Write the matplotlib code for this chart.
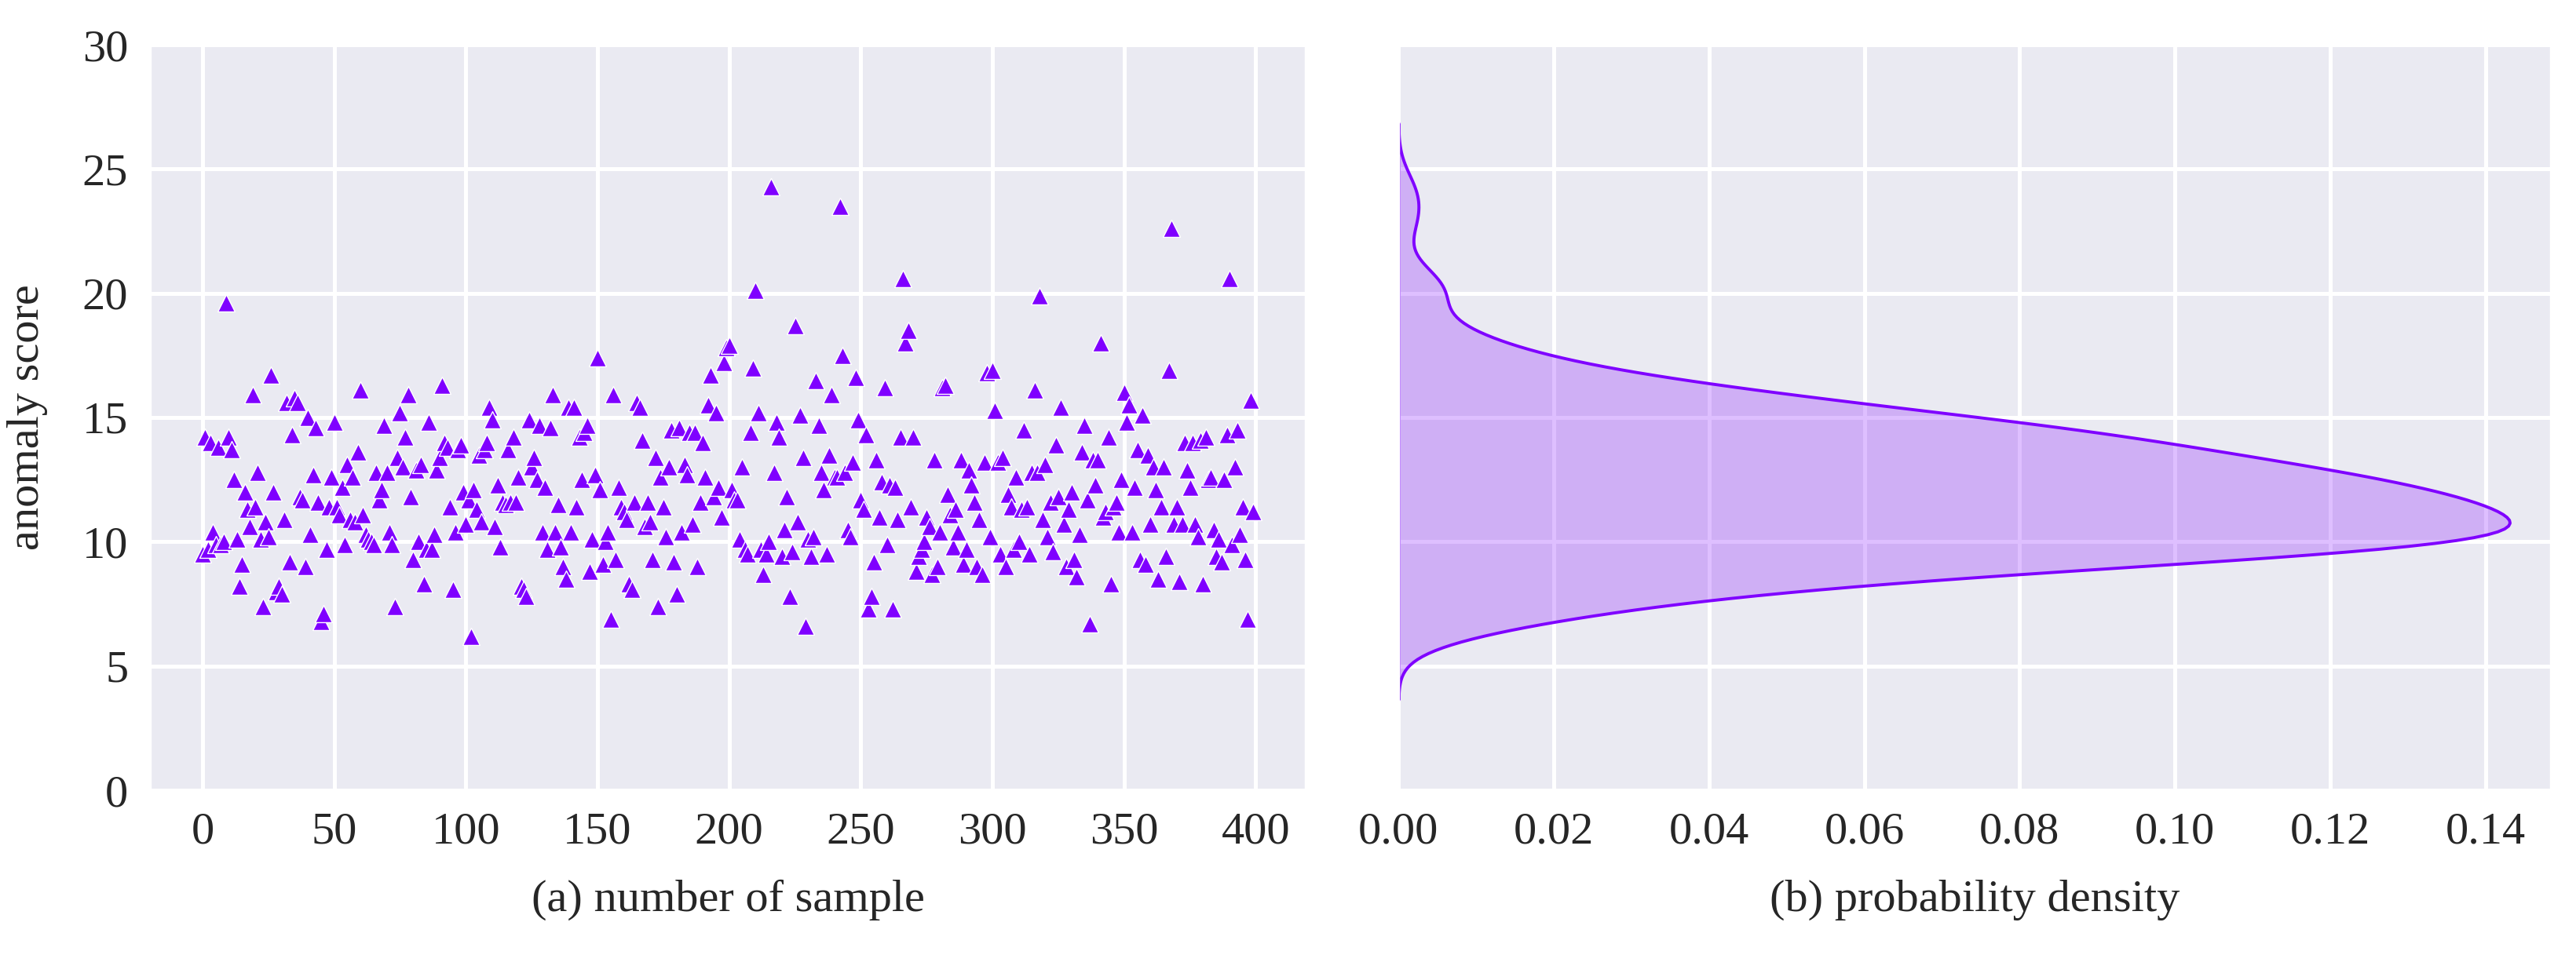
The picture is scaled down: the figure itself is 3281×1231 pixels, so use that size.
import numpy as np
import matplotlib
matplotlib.use("Agg")
import matplotlib.pyplot as plt
import seaborn as sns

# anomaly scores for samples 0..399
scores_000_099 = [
    9.5, 14.2, 9.7, 14.0, 10.4, 9.9, 13.8, 9.9, 10.0, 19.6,
    14.2, 13.7, 12.5, 10.1, 8.2, 9.1, 12.0, 11.3, 10.6, 15.9,
    11.4, 12.8, 10.1, 7.4, 10.8, 10.2, 16.7, 12.0, 8.0, 8.2,
    7.9, 10.9, 15.6, 9.2, 14.3, 15.8, 15.6, 11.8, 11.7, 9.0,
    15.0, 10.3, 12.7, 14.6, 11.6, 6.8, 7.1, 9.7, 11.4, 12.6,
    14.8, 11.4, 11.1, 12.2, 9.9, 13.1, 10.9, 12.6, 10.8, 13.6,
    16.1, 11.1, 10.3, 10.1, 10.0, 9.9, 12.8, 11.7, 12.1, 14.7,
    12.8, 10.4, 9.9, 7.4, 13.4, 15.2, 13.0, 14.2, 15.9, 11.8,
    9.3, 12.9, 10.0, 13.1, 8.3, 9.7, 14.8, 9.7, 10.3, 12.9,
    13.4, 16.3, 14.0, 13.8, 11.4, 8.1, 10.4, 13.7, 13.9, 12.0,
]
scores_100_199 = [
    10.7, 11.7, 6.2, 12.1, 11.3, 13.5, 10.8, 13.7, 14.0, 15.4,
    14.9, 10.6, 12.3, 9.8, 11.6, 11.5, 13.7, 11.6, 14.2, 11.6,
    12.6, 8.2, 8.1, 7.8, 14.9, 13.0, 13.4, 12.5, 14.7, 10.4,
    12.2, 9.7, 14.6, 15.9, 10.4, 11.5, 9.8, 9.0, 8.5, 15.4,
    10.4, 15.4, 11.4, 14.2, 12.5, 14.4, 14.7, 8.8, 10.1, 12.7,
    17.4, 12.1, 9.1, 10.0, 10.4, 6.9, 15.9, 9.3, 12.2, 11.4,
    11.2, 10.9, 8.3, 8.1, 11.6, 15.6, 15.4, 14.1, 10.6, 11.6,
    10.8, 9.3, 13.4, 7.4, 12.6, 11.4, 10.2, 13.0, 14.5, 9.2,
    7.9, 14.6, 10.4, 13.1, 12.7, 14.4, 10.7, 14.4, 9.0, 11.6,
    14.0, 12.6, 15.5, 16.7, 11.8, 15.2, 12.2, 11.0, 17.2, 17.8,
]
scores_200_299 = [
    17.9, 12.1, 11.7, 11.7, 10.1, 13.0, 9.7, 9.5, 14.4, 17.0,
    20.1, 15.2, 9.7, 8.7, 9.5, 10.0, 24.3, 12.8, 14.8, 14.2,
    9.4, 10.5, 11.8, 7.8, 9.6, 18.7, 10.8, 15.1, 13.4, 6.6,
    10.1, 9.4, 10.2, 16.5, 14.7, 12.8, 12.1, 9.5, 13.5, 15.9,
    12.6, 12.6, 23.5, 17.5, 12.8, 10.5, 10.2, 13.2, 16.6, 14.9,
    11.7, 11.3, 14.3, 7.3, 7.8, 9.2, 13.3, 11.0, 12.4, 16.2,
    9.9, 12.3, 7.3, 12.2, 10.9, 14.2, 20.6, 18.0, 18.5, 11.4,
    14.2, 8.8, 9.4, 9.7, 10.0, 11.0, 10.6, 8.7, 13.3, 9.0,
    10.4, 16.2, 16.3, 11.9, 11.1, 9.8, 11.3, 10.4, 13.3, 9.1,
    9.7, 12.9, 12.3, 11.6, 9.0, 10.9, 8.7, 13.2, 16.8, 10.2,
]
scores_300_399 = [
    16.9, 15.3, 13.2, 9.5, 13.4, 9.0, 11.9, 11.4, 9.7, 12.6,
    10.0, 11.3, 14.5, 11.4, 9.5, 12.8, 16.1, 12.8, 19.9, 10.9,
    13.1, 10.2, 11.6, 9.6, 13.9, 11.8, 15.4, 10.7, 9.0, 11.3,
    12.0, 9.3, 8.6, 10.3, 13.6, 14.7, 11.7, 6.7, 13.3, 12.3,
    13.3, 18.0, 11.0, 11.2, 14.2, 8.3, 11.4, 11.6, 10.4, 12.5,
    16.0, 14.8, 15.5, 10.4, 12.2, 13.7, 9.3, 15.1, 9.1, 13.5,
    10.7, 13.0, 12.1, 8.5, 11.4, 13.0, 9.4, 16.9, 22.6, 10.7,
    11.4, 8.4, 10.7, 14.0, 12.9, 12.2, 14.0, 10.7, 10.2, 14.1,
    8.3, 14.2, 12.5, 12.6, 10.5, 9.4, 10.1, 9.2, 12.5, 14.3,
    20.6, 9.9, 13.0, 14.5, 10.3, 11.4, 9.3, 6.9, 15.7, 11.2,
]

scores = np.array(scores_000_099 + scores_100_199 + scores_200_299 + scores_300_399)
sample_idx = np.arange(len(scores))

y_ticks = [0, 5, 10, 15, 20, 25, 30]
x_ticks_left = [0, 50, 100, 150, 200, 250, 300, 350, 400]
x_ticks_right = [0.00, 0.02, 0.04, 0.06, 0.08, 0.10, 0.12, 0.14]
label_a = "(a) number of sample"
label_b = "(b) probability density"
label_y = "anomaly score"

color = "#7F00FF"

sns.set_theme(style="darkgrid")
plt.rcParams["font.family"] = ["Liberation Serif", "DejaVu Serif"]
plt.rcParams["grid.linewidth"] = 1.8

W, H = 3281, 1231
dpi = 200
fig = plt.figure(figsize=(W / dpi, H / dpi), dpi=dpi)

ax1 = fig.add_axes([191 / W, 1 - 1007 / H, 1472 / W, 950 / H])
ax2 = fig.add_axes([1781 / W, 1 - 1007 / H, 1468 / W, 950 / H])

sns.scatterplot(x=sample_idx, y=scores, marker="^", s=62, color=color,
                edgecolor="white", linewidth=0.5, ax=ax1)
ax1.set_xlim(-19.95, 418.95)
ax1.set_ylim(0, 30)
ax1.set_xticks(x_ticks_left)
ax1.set_yticks(y_ticks)
ax1.set_xticklabels([str(t) for t in x_ticks_left])
ax1.set_yticklabels([str(t) for t in y_ticks])
ax1.set_ylabel(label_y, fontsize=21)
ax1.yaxis.set_label_coords(-0.088, 0.5)
ax1.set_xlabel(label_a, fontsize=21)
ax1.xaxis.label.set_va("center")
ax1.xaxis.set_label_coords(0.5, -0.147)

sns.kdeplot(y=scores, fill=True, color=color, linewidth=1.4, ax=ax2)
ax2.set_ylim(0, 30)
ax2.set_xlim(0, 0.1484)
ax2.set_yticks(y_ticks)
ax2.set_xticks(x_ticks_right)
ax2.set_xticklabels([f"{t:.2f}" for t in x_ticks_right])
ax2.tick_params(labelleft=False)
ax2.set_ylabel("")
ax2.set_xlabel(label_b, fontsize=21)
ax2.xaxis.label.set_va("center")
ax2.xaxis.set_label_coords(0.5, -0.147)

for ax in (ax1, ax2):
    ax.tick_params(axis="both", labelsize=21, length=0, pad=10)
    for lab in ax.get_xticklabels() + ax.get_yticklabels():
        lab.set_color("#262626")

fig.savefig("out.png", dpi=dpi)
